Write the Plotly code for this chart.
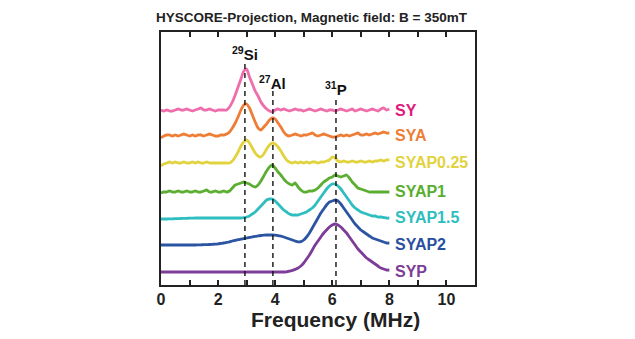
import plotly.graph_objects as go

# Frequency axis (MHz), sampled every 0.1 MHz from 0 to 8
freq = [round(i * 0.1, 1) for i in range(81)]

# Projection intensities (arbitrary units) for each sample
SY = [1, 0, 1, 0, 0, 1, 2, 1, 1, 2,
      1, 0, 1, 2, 3, 1, 1, 2, 1, 0,
      1, 1, 1, 1, 4, 9, 16, 24, 32, 40,
      42, 34, 27, 20, 15, 9, 5, 2, 0, -1,
      1, 2, 1, 2, 1, 0, 1, 2, 1, 1,
      0, 1, 2, 1, 0, 1, 2, 1, 0, 1,
      1, 0, 1, 2, 1, 0, 1, 2, 0, 1,
      2, 1, 0, 1, 2, 1, 0, 2, 3, 1,
      2]
SYA = [-2, 0, 1, 1, 0, 1, 0, 1, 2, 1,
       0, 1, 0, 1, 1, 0, 1, 2, 1, 0,
       0, 1, 1, 2, 4, 8, 13, 19, 26, 31,
       32, 28, 21, 14, 8, 6, 9, 12, 16, 18,
       17, 13, 9, 4, 1, 0, 1, 2, 1, 0,
       1, 1, 2, 3, 1, 0, 1, 2, 1, 0,
       -1, -1, 0, 1, 0, 1, 0, 1, 2, 3,
       1, 1, 2, 1, 2, 3, 2, 3, 4, 3,
       3]
SYAP025 = [-3, -1, 0, 1, 0, 1, 0, 0, 1, 0,
           0, 1, 0, 1, 0, 0, 1, 0, 0, 0,
           0, 0, 0, 0, 0, 2, 6, 11, 17, 21,
           23, 20, 15, 10, 7, 6, 9, 14, 18, 20,
           19, 16, 12, 7, 3, 1, 0, 1, 0, 1,
           0, 1, 0, 1, 1, 0, 1, 1, 2, 3,
           6, 5, 2, 1, 2, 1, 1, 2, 1, 1,
           2, 1, 1, 2, 1, 2, 2, 3, 2, 3,
           3]
SYAP1 = [-1, 0, 0, 1, 0, 0, 1, 0, 0, 1,
         0, 0, 1, 0, 0, 1, 2, 0, 0, 1,
         0, 0, 1, 0, 1, 4, 7, 8, 9, 10,
         9, 8, 6, 5, 7, 11, 16, 21, 25, 27,
         24, 20, 17, 13, 10, 8, 7, 9, 5, 2,
         0, 0, 1, 1, 2, 4, 7, 10, 12, 14,
         15, 17, 16, 15, 16, 17, 14, 10, 7, 4,
         3, 2, 1, 0, 0, 0, 0, 0, 0, 0,
         0]
SYAP15 = [-1, -1, -1, -0.9, -0.8, -0.7, -0.6, -0.5, -0.4, -0.3,
          -0.2, -0.1, 0, 0, 0, 0, 0, 0, 0, 0,
          0, 0, 0, 0, 0, 0, 0, 0, 0, 0.3,
          1, 2, 4, 6, 9, 12, 15, 18, 19, 19,
          17, 14, 11, 8, 6, 4, 3, 3, 3, 4,
          5, 6, 8, 10, 13, 17, 21, 25, 29, 32,
          34, 34, 32, 29, 25, 21, 17, 13, 10, 8,
          6, 5, 4, 3, 2, 2, 1, 1, 0.5, 0,
          0]
SYAP2 = [0, 0, 0, 0, 0, 0, 0, 0, 0, 0,
         0, 0, 0, 0.1, 0.2, 0.3, 0.4, 0.5, 0.7, 0.9,
         1.2, 1.6, 2, 2.6, 3.2, 4, 4.7, 5.3, 5.9, 6.4,
         7, 7.6, 8.1, 8.6, 9.1, 9.5, 9.8, 10, 10, 10,
         9.8, 9.4, 8.8, 8, 7, 6, 5, 4, 3.2, 3.3,
         5, 8, 12, 17, 22, 27, 32, 36, 40, 43,
         44, 45, 44, 41, 37, 33, 29, 25, 21, 18,
         15, 13, 11, 9, 7, 6, 5, 4, 3, 2,
         2]
SYP = [0, 0, 0, 0, 0, 0, 0, 0, 0, 0,
       0, 0, 0, 0, 0, 0, 0, 0, 0, 0,
       0, 0, 0, 0, 0, 0, 0, 0, 0, 0,
       0, 0, 0, 0, 0, 0, 0, 0, 0, 0,
       0, 0, 0, 0, 0.2, 0.8, 1.6, 2.6, 4, 6,
       9, 13, 17, 22, 27, 31, 35, 39, 42, 45,
       47, 48, 47, 45, 42, 39, 35, 31, 27, 23,
       20, 17, 14, 12, 10, 8, 6, 4, 3, 2,
       2]

sample_names = ["SY", "SYA", "SYAP0.25", "SYAP1", "SYAP1.5", "SYAP2", "SYP"]
series = [SY, SYA, SYAP025, SYAP1, SYAP15, SYAP2, SYP]
offsets = [174, 149, 122, 93, 67, 40, 13]  # vertical stacking of the traces
line_colors = ["#EE6DAB", "#EE7D36", "#E2D33E", "#5BAE31", "#2EBEC0", "#2B55A2", "#7C3C97"]
label_colors = ["#E0197D", "#EE7D36", "#E2D33E", "#58AE2E", "#2EBEC0", "#2A4FA0", "#7C3C97"]

# Nuclear Zeeman frequencies marked with dashed guides
nuclei = ["<sup>29</sup>Si", "<sup>27</sup>Al", "<sup>31</sup>P"]
nuclei_freq = [2.94, 3.92, 6.13]
guide_tops = [222, 194, 186]
nuclei_label_y = [232, 203, 197]

FONT = "Liberation Sans, Arial, sans-serif"

fig = go.Figure()

for name, vals, off, col in zip(sample_names, series, offsets, line_colors):
    fig.add_trace(go.Scatter(
        x=freq, y=[v + off for v in vals], mode="lines", name=name,
        line=dict(color=col, width=2.8, shape="spline", smoothing=0.6),
        showlegend=False, hoverinfo="skip",
    ))

annotations = []
for name, vals, off, col in zip(sample_names, series, offsets, label_colors):
    annotations.append(dict(
        x=8.12, y=off + 1, xref="x", yref="y", text="<b>%s</b>" % name,
        showarrow=False, xanchor="left", yanchor="middle",
        font=dict(family=FONT, size=16, color=col),
    ))

shapes = []
for label, f, top, ly in zip(nuclei, nuclei_freq, guide_tops, nuclei_label_y):
    shapes.append(dict(
        type="line", xref="x", yref="y", x0=f, x1=f, y0=0, y1=top,
        line=dict(color="#111111", width=1.4, dash="5px,4px"),
    ))
    annotations.append(dict(
        x=f, y=ly, xref="x", yref="y", text="<b>%s</b>" % label,
        showarrow=False, xanchor="center", yanchor="middle",
        font=dict(family=FONT, size=15, color="#111111"),
    ))

annotations.append(dict(
    x=5.3, y=1.059, xref="x", yref="paper",
    text="<b>HYSCORE-Projection, Magnetic field: B = 350mT</b>",
    showarrow=False, xanchor="center", yanchor="middle",
    font=dict(family=FONT, size=13.5, color="#222222"),
))
annotations.append(dict(
    x=6.1, y=-0.138, xref="x", yref="paper", text="<b>Frequency (MHz)</b>",
    showarrow=False, xanchor="center", yanchor="middle",
    font=dict(family=FONT, size=21, color="#222222"),
))

fig.update_layout(
    width=635, height=339,
    margin=dict(l=160.5, r=160, t=32, b=54, pad=0),
    paper_bgcolor="white", plot_bgcolor="white",
    annotations=annotations, shapes=shapes,
    xaxis=dict(
        range=[0, 11], tick0=0, dtick=2,
        ticks="inside", ticklen=5, tickwidth=1.5, tickcolor="#222222",
        minor=dict(dtick=1, ticks="inside", ticklen=5, tickwidth=1.5,
                   tickcolor="#222222", showgrid=False),
        showline=True, linewidth=2, linecolor="#222222", mirror="ticks",
        showgrid=False, zeroline=False, ticklabelstandoff=-1,
        tickfont=dict(family=FONT, size=16, color="#222222", weight="bold"),
    ),
    yaxis=dict(
        range=[0, 253], showticklabels=False, ticks="",
        showline=True, linewidth=2, linecolor="#222222", mirror=True,
        showgrid=False, zeroline=False,
    ),
)

fig.write_html("out.html")
